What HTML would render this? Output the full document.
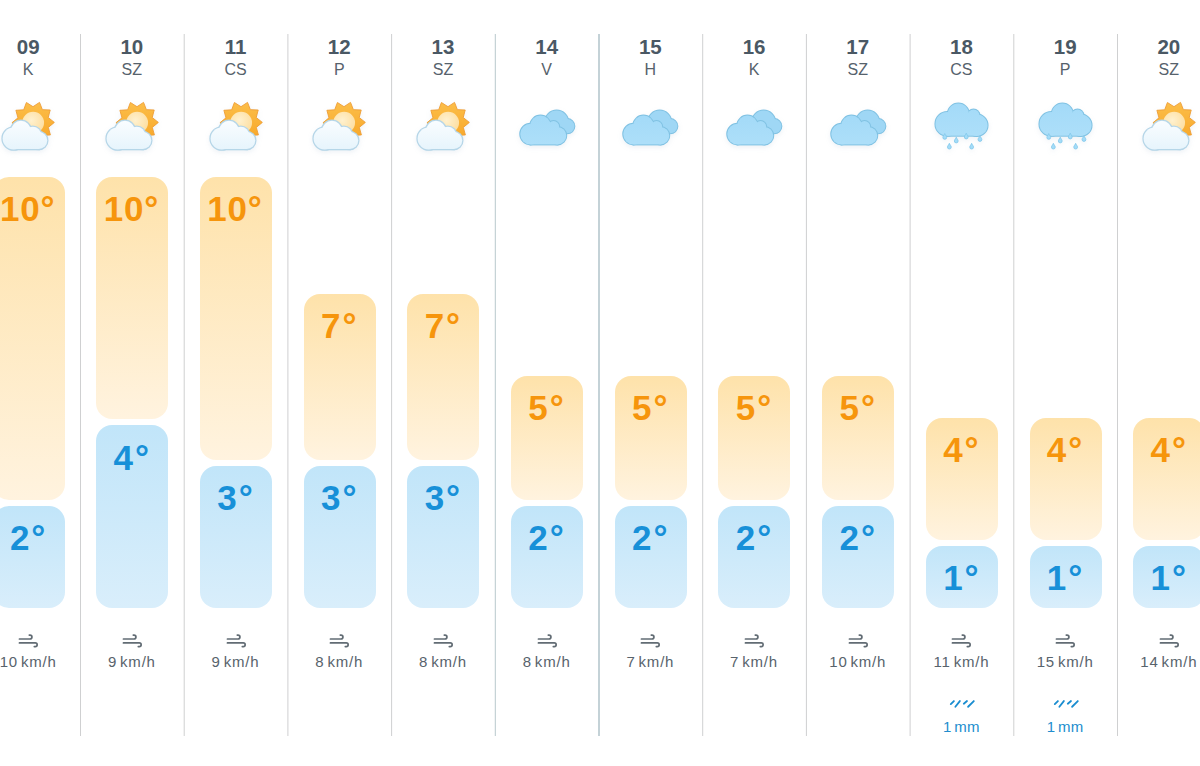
<!DOCTYPE html>
<html><head><meta charset="utf-8"><title>Előrejelzés</title><style>
*{margin:0;padding:0;box-sizing:border-box}
html,body{width:1200px;height:766px;overflow:hidden;background:#fff}
body{position:relative;font-family:"Liberation Sans",sans-serif}
.col{position:absolute;top:0;width:103.7px;height:766px}
.seps{position:absolute;left:0;top:0}
.num{position:absolute;left:0;right:0;top:35px;text-align:center;font-size:20.5px;line-height:24px;font-weight:bold;letter-spacing:0px;color:#4a5864}
.day{position:absolute;left:0;right:0;top:60.5px;text-align:center;font-size:16px;line-height:18px;color:#56626c}
.ico{position:absolute;left:21.85px;top:98px;overflow:visible;filter:drop-shadow(0 2px 2.5px rgba(90,130,170,0.10))}
.bar{position:absolute;left:16.3px;width:72px;border-radius:16px;text-align:center}
.bar span{position:absolute;left:0;right:0;top:14.2px;font-size:35px;line-height:35px;font-weight:bold;letter-spacing:2px}
.bar span.two{letter-spacing:0.8px;left:-2px}
.hi{background:linear-gradient(#fee2aa,#fff3df)}
.hi span{color:#f6950c}
.lo{background:linear-gradient(#c1e5f9,#d9eefb)}
.lo span{color:#1790d8}
.wind{position:absolute;left:41.85px;top:632px}
.wtxt{position:absolute;left:0;right:0;top:653px;text-align:center;font-size:15px;line-height:17px;letter-spacing:0.8px;word-spacing:-2px;color:#58636c}
.rain{position:absolute;left:39.35px;top:698px}
.rtxt{position:absolute;left:0;right:0;top:718px;text-align:center;font-size:15px;line-height:17px;letter-spacing:0.3px;word-spacing:-2px;color:#218dce}
</style></head>
<body>
<div class="col" style="left:-23.70px"><div class="num">09</div><div class="day">K</div><svg class="ico" width="60" height="56" viewBox="0 0 60 56"><defs><linearGradient id="sg0" gradientUnits="userSpaceOnUse" x1="0" y1="3" x2="0" y2="46"><stop offset="0" stop-color="#fcbf4a"/><stop offset="1" stop-color="#f7a526"/></linearGradient><radialGradient id="sd0" cx="0.42" cy="0.4" r="0.65"><stop offset="0" stop-color="#fff1cf"/><stop offset="1" stop-color="#fddea0"/></radialGradient><linearGradient id="cg0" gradientUnits="userSpaceOnUse" x1="0" y1="22" x2="0" y2="52"><stop offset="0" stop-color="#fafdff"/><stop offset="1" stop-color="#e6f4fc"/></linearGradient></defs><path d="M56.35,24.41 L50.23,19.55 L52.19,11.99 L44.38,11.66 L41.52,4.38 L35.01,8.70 L28.42,4.50 L25.69,11.82 L17.89,12.29 L19.99,19.82 L13.95,24.79 L20.07,29.65 L18.11,37.21 L25.92,37.54 L28.78,44.82 L35.29,40.50 L41.88,44.70 L44.61,37.38 L52.41,36.91 L50.31,29.38Z" fill="url(#sg0)" stroke="#ee9d35" stroke-width="0.9" stroke-linejoin="round"/><circle cx="35.15" cy="24.60" r="10.9" fill="url(#sd0)"/><circle cx="15.65" cy="40.50" r="11.00" fill="none" stroke="#b6d6e8" stroke-width="2.6"/><circle cx="22.95" cy="32.60" r="9.80" fill="none" stroke="#b6d6e8" stroke-width="2.6"/><circle cx="34.75" cy="37.30" r="8.50" fill="none" stroke="#b6d6e8" stroke-width="2.6"/><circle cx="40.75" cy="42.50" r="8.50" fill="none" stroke="#b6d6e8" stroke-width="2.6"/><rect x="15.65" y="40.50" width="25.10" height="10.50" fill="none" stroke="#b6d6e8" stroke-width="2.6"/><rect x="22.95" y="34.00" width="12.00" height="16.50" fill="none" stroke="#b6d6e8" stroke-width="2.6"/><circle cx="15.65" cy="40.50" r="11.00" fill="url(#cg0)"/><circle cx="22.95" cy="32.60" r="9.80" fill="url(#cg0)"/><circle cx="34.75" cy="37.30" r="8.50" fill="url(#cg0)"/><circle cx="40.75" cy="42.50" r="8.50" fill="url(#cg0)"/><rect x="15.65" y="40.50" width="25.10" height="10.50" fill="url(#cg0)"/><rect x="22.95" y="34.00" width="12.00" height="16.50" fill="url(#cg0)"/></svg><div class="bar hi" style="top:176.50px;height:323.50px"><span class="two">10°</span></div><div class="bar lo" style="top:506.30px;height:102.00px"><span>2°</span></div><svg class="wind" width="22" height="17" viewBox="0 0 22 17"><path d="M1.45,7 H12 A1.95,1.95 0 0 0 12,3.1 H11.3" fill="none" stroke="#626c74" stroke-width="1.7" stroke-linecap="round" stroke-linejoin="round"/><path d="M1.45,10.9 H17.3 A1.85,1.85 0 0 1 17.3,14.6 H16.3" fill="none" stroke="#626c74" stroke-width="1.7" stroke-linecap="round" stroke-linejoin="round"/></svg><div class="wtxt">10 km/h</div></div><div class="col" style="left:80.00px"><div class="num">10</div><div class="day">SZ</div><svg class="ico" width="60" height="56" viewBox="0 0 60 56"><defs><linearGradient id="sg1" gradientUnits="userSpaceOnUse" x1="0" y1="3" x2="0" y2="46"><stop offset="0" stop-color="#fcbf4a"/><stop offset="1" stop-color="#f7a526"/></linearGradient><radialGradient id="sd1" cx="0.42" cy="0.4" r="0.65"><stop offset="0" stop-color="#fff1cf"/><stop offset="1" stop-color="#fddea0"/></radialGradient><linearGradient id="cg1" gradientUnits="userSpaceOnUse" x1="0" y1="22" x2="0" y2="52"><stop offset="0" stop-color="#fafdff"/><stop offset="1" stop-color="#e6f4fc"/></linearGradient></defs><path d="M56.35,24.41 L50.23,19.55 L52.19,11.99 L44.38,11.66 L41.52,4.38 L35.01,8.70 L28.42,4.50 L25.69,11.82 L17.89,12.29 L19.99,19.82 L13.95,24.79 L20.07,29.65 L18.11,37.21 L25.92,37.54 L28.78,44.82 L35.29,40.50 L41.88,44.70 L44.61,37.38 L52.41,36.91 L50.31,29.38Z" fill="url(#sg1)" stroke="#ee9d35" stroke-width="0.9" stroke-linejoin="round"/><circle cx="35.15" cy="24.60" r="10.9" fill="url(#sd1)"/><circle cx="15.65" cy="40.50" r="11.00" fill="none" stroke="#b6d6e8" stroke-width="2.6"/><circle cx="22.95" cy="32.60" r="9.80" fill="none" stroke="#b6d6e8" stroke-width="2.6"/><circle cx="34.75" cy="37.30" r="8.50" fill="none" stroke="#b6d6e8" stroke-width="2.6"/><circle cx="40.75" cy="42.50" r="8.50" fill="none" stroke="#b6d6e8" stroke-width="2.6"/><rect x="15.65" y="40.50" width="25.10" height="10.50" fill="none" stroke="#b6d6e8" stroke-width="2.6"/><rect x="22.95" y="34.00" width="12.00" height="16.50" fill="none" stroke="#b6d6e8" stroke-width="2.6"/><circle cx="15.65" cy="40.50" r="11.00" fill="url(#cg1)"/><circle cx="22.95" cy="32.60" r="9.80" fill="url(#cg1)"/><circle cx="34.75" cy="37.30" r="8.50" fill="url(#cg1)"/><circle cx="40.75" cy="42.50" r="8.50" fill="url(#cg1)"/><rect x="15.65" y="40.50" width="25.10" height="10.50" fill="url(#cg1)"/><rect x="22.95" y="34.00" width="12.00" height="16.50" fill="url(#cg1)"/></svg><div class="bar hi" style="top:176.50px;height:242.70px"><span class="two">10°</span></div><div class="bar lo" style="top:425.40px;height:182.90px"><span>4°</span></div><svg class="wind" width="22" height="17" viewBox="0 0 22 17"><path d="M1.45,7 H12 A1.95,1.95 0 0 0 12,3.1 H11.3" fill="none" stroke="#626c74" stroke-width="1.7" stroke-linecap="round" stroke-linejoin="round"/><path d="M1.45,10.9 H17.3 A1.85,1.85 0 0 1 17.3,14.6 H16.3" fill="none" stroke="#626c74" stroke-width="1.7" stroke-linecap="round" stroke-linejoin="round"/></svg><div class="wtxt">9 km/h</div></div><div class="col" style="left:183.70px"><div class="num">11</div><div class="day">CS</div><svg class="ico" width="60" height="56" viewBox="0 0 60 56"><defs><linearGradient id="sg2" gradientUnits="userSpaceOnUse" x1="0" y1="3" x2="0" y2="46"><stop offset="0" stop-color="#fcbf4a"/><stop offset="1" stop-color="#f7a526"/></linearGradient><radialGradient id="sd2" cx="0.42" cy="0.4" r="0.65"><stop offset="0" stop-color="#fff1cf"/><stop offset="1" stop-color="#fddea0"/></radialGradient><linearGradient id="cg2" gradientUnits="userSpaceOnUse" x1="0" y1="22" x2="0" y2="52"><stop offset="0" stop-color="#fafdff"/><stop offset="1" stop-color="#e6f4fc"/></linearGradient></defs><path d="M56.35,24.41 L50.23,19.55 L52.19,11.99 L44.38,11.66 L41.52,4.38 L35.01,8.70 L28.42,4.50 L25.69,11.82 L17.89,12.29 L19.99,19.82 L13.95,24.79 L20.07,29.65 L18.11,37.21 L25.92,37.54 L28.78,44.82 L35.29,40.50 L41.88,44.70 L44.61,37.38 L52.41,36.91 L50.31,29.38Z" fill="url(#sg2)" stroke="#ee9d35" stroke-width="0.9" stroke-linejoin="round"/><circle cx="35.15" cy="24.60" r="10.9" fill="url(#sd2)"/><circle cx="15.65" cy="40.50" r="11.00" fill="none" stroke="#b6d6e8" stroke-width="2.6"/><circle cx="22.95" cy="32.60" r="9.80" fill="none" stroke="#b6d6e8" stroke-width="2.6"/><circle cx="34.75" cy="37.30" r="8.50" fill="none" stroke="#b6d6e8" stroke-width="2.6"/><circle cx="40.75" cy="42.50" r="8.50" fill="none" stroke="#b6d6e8" stroke-width="2.6"/><rect x="15.65" y="40.50" width="25.10" height="10.50" fill="none" stroke="#b6d6e8" stroke-width="2.6"/><rect x="22.95" y="34.00" width="12.00" height="16.50" fill="none" stroke="#b6d6e8" stroke-width="2.6"/><circle cx="15.65" cy="40.50" r="11.00" fill="url(#cg2)"/><circle cx="22.95" cy="32.60" r="9.80" fill="url(#cg2)"/><circle cx="34.75" cy="37.30" r="8.50" fill="url(#cg2)"/><circle cx="40.75" cy="42.50" r="8.50" fill="url(#cg2)"/><rect x="15.65" y="40.50" width="25.10" height="10.50" fill="url(#cg2)"/><rect x="22.95" y="34.00" width="12.00" height="16.50" fill="url(#cg2)"/></svg><div class="bar hi" style="top:176.50px;height:283.50px"><span class="two">10°</span></div><div class="bar lo" style="top:466.00px;height:142.30px"><span>3°</span></div><svg class="wind" width="22" height="17" viewBox="0 0 22 17"><path d="M1.45,7 H12 A1.95,1.95 0 0 0 12,3.1 H11.3" fill="none" stroke="#626c74" stroke-width="1.7" stroke-linecap="round" stroke-linejoin="round"/><path d="M1.45,10.9 H17.3 A1.85,1.85 0 0 1 17.3,14.6 H16.3" fill="none" stroke="#626c74" stroke-width="1.7" stroke-linecap="round" stroke-linejoin="round"/></svg><div class="wtxt">9 km/h</div></div><div class="col" style="left:287.40px"><div class="num">12</div><div class="day">P</div><svg class="ico" width="60" height="56" viewBox="0 0 60 56"><defs><linearGradient id="sg3" gradientUnits="userSpaceOnUse" x1="0" y1="3" x2="0" y2="46"><stop offset="0" stop-color="#fcbf4a"/><stop offset="1" stop-color="#f7a526"/></linearGradient><radialGradient id="sd3" cx="0.42" cy="0.4" r="0.65"><stop offset="0" stop-color="#fff1cf"/><stop offset="1" stop-color="#fddea0"/></radialGradient><linearGradient id="cg3" gradientUnits="userSpaceOnUse" x1="0" y1="22" x2="0" y2="52"><stop offset="0" stop-color="#fafdff"/><stop offset="1" stop-color="#e6f4fc"/></linearGradient></defs><path d="M56.35,24.41 L50.23,19.55 L52.19,11.99 L44.38,11.66 L41.52,4.38 L35.01,8.70 L28.42,4.50 L25.69,11.82 L17.89,12.29 L19.99,19.82 L13.95,24.79 L20.07,29.65 L18.11,37.21 L25.92,37.54 L28.78,44.82 L35.29,40.50 L41.88,44.70 L44.61,37.38 L52.41,36.91 L50.31,29.38Z" fill="url(#sg3)" stroke="#ee9d35" stroke-width="0.9" stroke-linejoin="round"/><circle cx="35.15" cy="24.60" r="10.9" fill="url(#sd3)"/><circle cx="15.65" cy="40.50" r="11.00" fill="none" stroke="#b6d6e8" stroke-width="2.6"/><circle cx="22.95" cy="32.60" r="9.80" fill="none" stroke="#b6d6e8" stroke-width="2.6"/><circle cx="34.75" cy="37.30" r="8.50" fill="none" stroke="#b6d6e8" stroke-width="2.6"/><circle cx="40.75" cy="42.50" r="8.50" fill="none" stroke="#b6d6e8" stroke-width="2.6"/><rect x="15.65" y="40.50" width="25.10" height="10.50" fill="none" stroke="#b6d6e8" stroke-width="2.6"/><rect x="22.95" y="34.00" width="12.00" height="16.50" fill="none" stroke="#b6d6e8" stroke-width="2.6"/><circle cx="15.65" cy="40.50" r="11.00" fill="url(#cg3)"/><circle cx="22.95" cy="32.60" r="9.80" fill="url(#cg3)"/><circle cx="34.75" cy="37.30" r="8.50" fill="url(#cg3)"/><circle cx="40.75" cy="42.50" r="8.50" fill="url(#cg3)"/><rect x="15.65" y="40.50" width="25.10" height="10.50" fill="url(#cg3)"/><rect x="22.95" y="34.00" width="12.00" height="16.50" fill="url(#cg3)"/></svg><div class="bar hi" style="top:294.00px;height:166.00px"><span>7°</span></div><div class="bar lo" style="top:466.00px;height:142.30px"><span>3°</span></div><svg class="wind" width="22" height="17" viewBox="0 0 22 17"><path d="M1.45,7 H12 A1.95,1.95 0 0 0 12,3.1 H11.3" fill="none" stroke="#626c74" stroke-width="1.7" stroke-linecap="round" stroke-linejoin="round"/><path d="M1.45,10.9 H17.3 A1.85,1.85 0 0 1 17.3,14.6 H16.3" fill="none" stroke="#626c74" stroke-width="1.7" stroke-linecap="round" stroke-linejoin="round"/></svg><div class="wtxt">8 km/h</div></div><div class="col" style="left:391.10px"><div class="num">13</div><div class="day">SZ</div><svg class="ico" width="60" height="56" viewBox="0 0 60 56"><defs><linearGradient id="sg4" gradientUnits="userSpaceOnUse" x1="0" y1="3" x2="0" y2="46"><stop offset="0" stop-color="#fcbf4a"/><stop offset="1" stop-color="#f7a526"/></linearGradient><radialGradient id="sd4" cx="0.42" cy="0.4" r="0.65"><stop offset="0" stop-color="#fff1cf"/><stop offset="1" stop-color="#fddea0"/></radialGradient><linearGradient id="cg4" gradientUnits="userSpaceOnUse" x1="0" y1="22" x2="0" y2="52"><stop offset="0" stop-color="#fafdff"/><stop offset="1" stop-color="#e6f4fc"/></linearGradient></defs><path d="M56.35,24.41 L50.23,19.55 L52.19,11.99 L44.38,11.66 L41.52,4.38 L35.01,8.70 L28.42,4.50 L25.69,11.82 L17.89,12.29 L19.99,19.82 L13.95,24.79 L20.07,29.65 L18.11,37.21 L25.92,37.54 L28.78,44.82 L35.29,40.50 L41.88,44.70 L44.61,37.38 L52.41,36.91 L50.31,29.38Z" fill="url(#sg4)" stroke="#ee9d35" stroke-width="0.9" stroke-linejoin="round"/><circle cx="35.15" cy="24.60" r="10.9" fill="url(#sd4)"/><circle cx="15.65" cy="40.50" r="11.00" fill="none" stroke="#b6d6e8" stroke-width="2.6"/><circle cx="22.95" cy="32.60" r="9.80" fill="none" stroke="#b6d6e8" stroke-width="2.6"/><circle cx="34.75" cy="37.30" r="8.50" fill="none" stroke="#b6d6e8" stroke-width="2.6"/><circle cx="40.75" cy="42.50" r="8.50" fill="none" stroke="#b6d6e8" stroke-width="2.6"/><rect x="15.65" y="40.50" width="25.10" height="10.50" fill="none" stroke="#b6d6e8" stroke-width="2.6"/><rect x="22.95" y="34.00" width="12.00" height="16.50" fill="none" stroke="#b6d6e8" stroke-width="2.6"/><circle cx="15.65" cy="40.50" r="11.00" fill="url(#cg4)"/><circle cx="22.95" cy="32.60" r="9.80" fill="url(#cg4)"/><circle cx="34.75" cy="37.30" r="8.50" fill="url(#cg4)"/><circle cx="40.75" cy="42.50" r="8.50" fill="url(#cg4)"/><rect x="15.65" y="40.50" width="25.10" height="10.50" fill="url(#cg4)"/><rect x="22.95" y="34.00" width="12.00" height="16.50" fill="url(#cg4)"/></svg><div class="bar hi" style="top:294.00px;height:166.00px"><span>7°</span></div><div class="bar lo" style="top:466.00px;height:142.30px"><span>3°</span></div><svg class="wind" width="22" height="17" viewBox="0 0 22 17"><path d="M1.45,7 H12 A1.95,1.95 0 0 0 12,3.1 H11.3" fill="none" stroke="#626c74" stroke-width="1.7" stroke-linecap="round" stroke-linejoin="round"/><path d="M1.45,10.9 H17.3 A1.85,1.85 0 0 1 17.3,14.6 H16.3" fill="none" stroke="#626c74" stroke-width="1.7" stroke-linecap="round" stroke-linejoin="round"/></svg><div class="wtxt">8 km/h</div></div><div class="col" style="left:494.80px"><div class="num">14</div><div class="day">V</div><svg class="ico" width="60" height="56" viewBox="0 0 60 56"><defs><linearGradient id="fg5" gradientUnits="userSpaceOnUse" x1="0" y1="16" x2="0" y2="47"><stop offset="0" stop-color="#a3daf8"/><stop offset="1" stop-color="#addff9"/></linearGradient></defs><circle cx="39.65" cy="24.20" r="11.60" fill="none" stroke="#80c2e3" stroke-width="2.0"/><circle cx="50.25" cy="28.20" r="7.10" fill="none" stroke="#80c2e3" stroke-width="2.0"/><rect x="35.95" y="28.00" width="14.30" height="7.10" fill="none" stroke="#80c2e3" stroke-width="2.0"/><circle cx="39.65" cy="24.20" r="11.60" fill="#9fd7f5"/><circle cx="50.25" cy="28.20" r="7.10" fill="#9fd7f5"/><rect x="35.95" y="28.00" width="14.30" height="7.10" fill="#9fd7f5"/><circle cx="13.55" cy="36.10" r="10.30" fill="none" stroke="#80c2e3" stroke-width="2.0"/><circle cx="23.45" cy="27.80" r="10.20" fill="none" stroke="#80c2e3" stroke-width="2.0"/><circle cx="36.55" cy="28.60" r="5.60" fill="none" stroke="#80c2e3" stroke-width="2.0"/><circle cx="40.55" cy="37.70" r="8.70" fill="none" stroke="#80c2e3" stroke-width="2.0"/><rect x="13.55" y="36.10" width="27.00" height="10.30" fill="none" stroke="#80c2e3" stroke-width="2.0"/><rect x="23.45" y="29.00" width="13.00" height="16.50" fill="none" stroke="#80c2e3" stroke-width="2.0"/><circle cx="13.55" cy="36.10" r="10.30" fill="url(#fg5)"/><circle cx="23.45" cy="27.80" r="10.20" fill="url(#fg5)"/><circle cx="36.55" cy="28.60" r="5.60" fill="url(#fg5)"/><circle cx="40.55" cy="37.70" r="8.70" fill="url(#fg5)"/><rect x="13.55" y="36.10" width="27.00" height="10.30" fill="url(#fg5)"/><rect x="23.45" y="29.00" width="13.00" height="16.50" fill="url(#fg5)"/></svg><div class="bar hi" style="top:375.80px;height:124.20px"><span>5°</span></div><div class="bar lo" style="top:506.30px;height:102.00px"><span>2°</span></div><svg class="wind" width="22" height="17" viewBox="0 0 22 17"><path d="M1.45,7 H12 A1.95,1.95 0 0 0 12,3.1 H11.3" fill="none" stroke="#626c74" stroke-width="1.7" stroke-linecap="round" stroke-linejoin="round"/><path d="M1.45,10.9 H17.3 A1.85,1.85 0 0 1 17.3,14.6 H16.3" fill="none" stroke="#626c74" stroke-width="1.7" stroke-linecap="round" stroke-linejoin="round"/></svg><div class="wtxt">8 km/h</div></div><div class="col" style="left:598.50px"><div class="num">15</div><div class="day">H</div><svg class="ico" width="60" height="56" viewBox="0 0 60 56"><defs><linearGradient id="fg6" gradientUnits="userSpaceOnUse" x1="0" y1="16" x2="0" y2="47"><stop offset="0" stop-color="#a3daf8"/><stop offset="1" stop-color="#addff9"/></linearGradient></defs><circle cx="39.65" cy="24.20" r="11.60" fill="none" stroke="#80c2e3" stroke-width="2.0"/><circle cx="50.25" cy="28.20" r="7.10" fill="none" stroke="#80c2e3" stroke-width="2.0"/><rect x="35.95" y="28.00" width="14.30" height="7.10" fill="none" stroke="#80c2e3" stroke-width="2.0"/><circle cx="39.65" cy="24.20" r="11.60" fill="#9fd7f5"/><circle cx="50.25" cy="28.20" r="7.10" fill="#9fd7f5"/><rect x="35.95" y="28.00" width="14.30" height="7.10" fill="#9fd7f5"/><circle cx="13.55" cy="36.10" r="10.30" fill="none" stroke="#80c2e3" stroke-width="2.0"/><circle cx="23.45" cy="27.80" r="10.20" fill="none" stroke="#80c2e3" stroke-width="2.0"/><circle cx="36.55" cy="28.60" r="5.60" fill="none" stroke="#80c2e3" stroke-width="2.0"/><circle cx="40.55" cy="37.70" r="8.70" fill="none" stroke="#80c2e3" stroke-width="2.0"/><rect x="13.55" y="36.10" width="27.00" height="10.30" fill="none" stroke="#80c2e3" stroke-width="2.0"/><rect x="23.45" y="29.00" width="13.00" height="16.50" fill="none" stroke="#80c2e3" stroke-width="2.0"/><circle cx="13.55" cy="36.10" r="10.30" fill="url(#fg6)"/><circle cx="23.45" cy="27.80" r="10.20" fill="url(#fg6)"/><circle cx="36.55" cy="28.60" r="5.60" fill="url(#fg6)"/><circle cx="40.55" cy="37.70" r="8.70" fill="url(#fg6)"/><rect x="13.55" y="36.10" width="27.00" height="10.30" fill="url(#fg6)"/><rect x="23.45" y="29.00" width="13.00" height="16.50" fill="url(#fg6)"/></svg><div class="bar hi" style="top:375.80px;height:124.20px"><span>5°</span></div><div class="bar lo" style="top:506.30px;height:102.00px"><span>2°</span></div><svg class="wind" width="22" height="17" viewBox="0 0 22 17"><path d="M1.45,7 H12 A1.95,1.95 0 0 0 12,3.1 H11.3" fill="none" stroke="#626c74" stroke-width="1.7" stroke-linecap="round" stroke-linejoin="round"/><path d="M1.45,10.9 H17.3 A1.85,1.85 0 0 1 17.3,14.6 H16.3" fill="none" stroke="#626c74" stroke-width="1.7" stroke-linecap="round" stroke-linejoin="round"/></svg><div class="wtxt">7 km/h</div></div><div class="col" style="left:702.20px"><div class="num">16</div><div class="day">K</div><svg class="ico" width="60" height="56" viewBox="0 0 60 56"><defs><linearGradient id="fg7" gradientUnits="userSpaceOnUse" x1="0" y1="16" x2="0" y2="47"><stop offset="0" stop-color="#a3daf8"/><stop offset="1" stop-color="#addff9"/></linearGradient></defs><circle cx="39.65" cy="24.20" r="11.60" fill="none" stroke="#80c2e3" stroke-width="2.0"/><circle cx="50.25" cy="28.20" r="7.10" fill="none" stroke="#80c2e3" stroke-width="2.0"/><rect x="35.95" y="28.00" width="14.30" height="7.10" fill="none" stroke="#80c2e3" stroke-width="2.0"/><circle cx="39.65" cy="24.20" r="11.60" fill="#9fd7f5"/><circle cx="50.25" cy="28.20" r="7.10" fill="#9fd7f5"/><rect x="35.95" y="28.00" width="14.30" height="7.10" fill="#9fd7f5"/><circle cx="13.55" cy="36.10" r="10.30" fill="none" stroke="#80c2e3" stroke-width="2.0"/><circle cx="23.45" cy="27.80" r="10.20" fill="none" stroke="#80c2e3" stroke-width="2.0"/><circle cx="36.55" cy="28.60" r="5.60" fill="none" stroke="#80c2e3" stroke-width="2.0"/><circle cx="40.55" cy="37.70" r="8.70" fill="none" stroke="#80c2e3" stroke-width="2.0"/><rect x="13.55" y="36.10" width="27.00" height="10.30" fill="none" stroke="#80c2e3" stroke-width="2.0"/><rect x="23.45" y="29.00" width="13.00" height="16.50" fill="none" stroke="#80c2e3" stroke-width="2.0"/><circle cx="13.55" cy="36.10" r="10.30" fill="url(#fg7)"/><circle cx="23.45" cy="27.80" r="10.20" fill="url(#fg7)"/><circle cx="36.55" cy="28.60" r="5.60" fill="url(#fg7)"/><circle cx="40.55" cy="37.70" r="8.70" fill="url(#fg7)"/><rect x="13.55" y="36.10" width="27.00" height="10.30" fill="url(#fg7)"/><rect x="23.45" y="29.00" width="13.00" height="16.50" fill="url(#fg7)"/></svg><div class="bar hi" style="top:375.80px;height:124.20px"><span>5°</span></div><div class="bar lo" style="top:506.30px;height:102.00px"><span>2°</span></div><svg class="wind" width="22" height="17" viewBox="0 0 22 17"><path d="M1.45,7 H12 A1.95,1.95 0 0 0 12,3.1 H11.3" fill="none" stroke="#626c74" stroke-width="1.7" stroke-linecap="round" stroke-linejoin="round"/><path d="M1.45,10.9 H17.3 A1.85,1.85 0 0 1 17.3,14.6 H16.3" fill="none" stroke="#626c74" stroke-width="1.7" stroke-linecap="round" stroke-linejoin="round"/></svg><div class="wtxt">7 km/h</div></div><div class="col" style="left:805.90px"><div class="num">17</div><div class="day">SZ</div><svg class="ico" width="60" height="56" viewBox="0 0 60 56"><defs><linearGradient id="fg8" gradientUnits="userSpaceOnUse" x1="0" y1="16" x2="0" y2="47"><stop offset="0" stop-color="#a3daf8"/><stop offset="1" stop-color="#addff9"/></linearGradient></defs><circle cx="39.65" cy="24.20" r="11.60" fill="none" stroke="#80c2e3" stroke-width="2.0"/><circle cx="50.25" cy="28.20" r="7.10" fill="none" stroke="#80c2e3" stroke-width="2.0"/><rect x="35.95" y="28.00" width="14.30" height="7.10" fill="none" stroke="#80c2e3" stroke-width="2.0"/><circle cx="39.65" cy="24.20" r="11.60" fill="#9fd7f5"/><circle cx="50.25" cy="28.20" r="7.10" fill="#9fd7f5"/><rect x="35.95" y="28.00" width="14.30" height="7.10" fill="#9fd7f5"/><circle cx="13.55" cy="36.10" r="10.30" fill="none" stroke="#80c2e3" stroke-width="2.0"/><circle cx="23.45" cy="27.80" r="10.20" fill="none" stroke="#80c2e3" stroke-width="2.0"/><circle cx="36.55" cy="28.60" r="5.60" fill="none" stroke="#80c2e3" stroke-width="2.0"/><circle cx="40.55" cy="37.70" r="8.70" fill="none" stroke="#80c2e3" stroke-width="2.0"/><rect x="13.55" y="36.10" width="27.00" height="10.30" fill="none" stroke="#80c2e3" stroke-width="2.0"/><rect x="23.45" y="29.00" width="13.00" height="16.50" fill="none" stroke="#80c2e3" stroke-width="2.0"/><circle cx="13.55" cy="36.10" r="10.30" fill="url(#fg8)"/><circle cx="23.45" cy="27.80" r="10.20" fill="url(#fg8)"/><circle cx="36.55" cy="28.60" r="5.60" fill="url(#fg8)"/><circle cx="40.55" cy="37.70" r="8.70" fill="url(#fg8)"/><rect x="13.55" y="36.10" width="27.00" height="10.30" fill="url(#fg8)"/><rect x="23.45" y="29.00" width="13.00" height="16.50" fill="url(#fg8)"/></svg><div class="bar hi" style="top:375.80px;height:124.20px"><span>5°</span></div><div class="bar lo" style="top:506.30px;height:102.00px"><span>2°</span></div><svg class="wind" width="22" height="17" viewBox="0 0 22 17"><path d="M1.45,7 H12 A1.95,1.95 0 0 0 12,3.1 H11.3" fill="none" stroke="#626c74" stroke-width="1.7" stroke-linecap="round" stroke-linejoin="round"/><path d="M1.45,10.9 H17.3 A1.85,1.85 0 0 1 17.3,14.6 H16.3" fill="none" stroke="#626c74" stroke-width="1.7" stroke-linecap="round" stroke-linejoin="round"/></svg><div class="wtxt">10 km/h</div></div><div class="col" style="left:909.60px"><div class="num">18</div><div class="day">CS</div><svg class="ico" width="60" height="56" viewBox="0 0 60 56"><defs><linearGradient id="rg9" gradientUnits="userSpaceOnUse" x1="0" y1="4" x2="0" y2="39"><stop offset="0" stop-color="#a3daf8"/><stop offset="1" stop-color="#addff9"/></linearGradient></defs><circle cx="16.25" cy="25.90" r="11.80" fill="none" stroke="#80c2e3" stroke-width="2.0"/><circle cx="27.35" cy="16.10" r="10.60" fill="none" stroke="#80c2e3" stroke-width="2.0"/><circle cx="42.55" cy="17.50" r="5.90" fill="none" stroke="#80c2e3" stroke-width="2.0"/><circle cx="45.85" cy="27.30" r="10.70" fill="none" stroke="#80c2e3" stroke-width="2.0"/><rect x="16.25" y="25.90" width="29.60" height="11.80" fill="none" stroke="#80c2e3" stroke-width="2.0"/><rect x="27.35" y="18.00" width="16.00" height="18.50" fill="none" stroke="#80c2e3" stroke-width="2.0"/><circle cx="16.25" cy="25.90" r="11.80" fill="url(#rg9)"/><circle cx="27.35" cy="16.10" r="10.60" fill="url(#rg9)"/><circle cx="42.55" cy="17.50" r="5.90" fill="url(#rg9)"/><circle cx="45.85" cy="27.30" r="10.70" fill="url(#rg9)"/><rect x="16.25" y="25.90" width="29.60" height="11.80" fill="url(#rg9)"/><rect x="27.35" y="18.00" width="16.00" height="18.50" fill="url(#rg9)"/><path d="M13.75,35.60 C14.35,37.20 15.65,38.20 15.65,39.40 A1.9,1.9 0 0 1 11.85,39.40 C11.85,38.20 13.15,37.20 13.75,35.60Z" fill="#a3dcf8" stroke="#80c6ea" stroke-width="0.8"/><path d="M25.25,39.20 C25.85,40.80 27.15,41.80 27.15,43.00 A1.9,1.9 0 0 1 23.35,43.00 C23.35,41.80 24.65,40.80 25.25,39.20Z" fill="#a3dcf8" stroke="#80c6ea" stroke-width="0.8"/><path d="M35.25,35.20 C35.85,36.80 37.15,37.80 37.15,39.00 A1.9,1.9 0 0 1 33.35,39.00 C33.35,37.80 34.65,36.80 35.25,35.20Z" fill="#a3dcf8" stroke="#80c6ea" stroke-width="0.8"/><path d="M48.95,37.70 C49.55,39.30 50.85,40.30 50.85,41.50 A1.9,1.9 0 0 1 47.05,41.50 C47.05,40.30 48.35,39.30 48.95,37.70Z" fill="#a3dcf8" stroke="#80c6ea" stroke-width="0.8"/><path d="M18.35,45.30 C18.95,46.90 20.25,47.90 20.25,49.10 A1.9,1.9 0 0 1 16.45,49.10 C16.45,47.90 17.75,46.90 18.35,45.30Z" fill="#a3dcf8" stroke="#80c6ea" stroke-width="0.8"/><path d="M40.65,45.30 C41.25,46.90 42.55,47.90 42.55,49.10 A1.9,1.9 0 0 1 38.75,49.10 C38.75,47.90 40.05,46.90 40.65,45.30Z" fill="#a3dcf8" stroke="#80c6ea" stroke-width="0.8"/></svg><div class="bar hi" style="top:417.80px;height:122.20px"><span>4°</span></div><div class="bar lo" style="top:546.00px;height:62.30px"><span>1°</span></div><svg class="wind" width="22" height="17" viewBox="0 0 22 17"><path d="M1.45,7 H12 A1.95,1.95 0 0 0 12,3.1 H11.3" fill="none" stroke="#626c74" stroke-width="1.7" stroke-linecap="round" stroke-linejoin="round"/><path d="M1.45,10.9 H17.3 A1.85,1.85 0 0 1 17.3,14.6 H16.3" fill="none" stroke="#626c74" stroke-width="1.7" stroke-linecap="round" stroke-linejoin="round"/></svg><div class="wtxt">11 km/h</div><svg class="rain" width="27" height="11" viewBox="0 0 27 11"><path d="M1.80,6.15 L4.90,3.05 M6.37,8.73 L10.83,3.07 M14.81,5.77 L17.99,3.03 M19.10,8.75 L24.80,3.05" fill="none" stroke="#1a8dd0" stroke-width="1.8" stroke-linecap="round"/></svg><div class="rtxt">1 mm</div></div><div class="col" style="left:1013.30px"><div class="num">19</div><div class="day">P</div><svg class="ico" width="60" height="56" viewBox="0 0 60 56"><defs><linearGradient id="rg10" gradientUnits="userSpaceOnUse" x1="0" y1="4" x2="0" y2="39"><stop offset="0" stop-color="#a3daf8"/><stop offset="1" stop-color="#addff9"/></linearGradient></defs><circle cx="16.25" cy="25.90" r="11.80" fill="none" stroke="#80c2e3" stroke-width="2.0"/><circle cx="27.35" cy="16.10" r="10.60" fill="none" stroke="#80c2e3" stroke-width="2.0"/><circle cx="42.55" cy="17.50" r="5.90" fill="none" stroke="#80c2e3" stroke-width="2.0"/><circle cx="45.85" cy="27.30" r="10.70" fill="none" stroke="#80c2e3" stroke-width="2.0"/><rect x="16.25" y="25.90" width="29.60" height="11.80" fill="none" stroke="#80c2e3" stroke-width="2.0"/><rect x="27.35" y="18.00" width="16.00" height="18.50" fill="none" stroke="#80c2e3" stroke-width="2.0"/><circle cx="16.25" cy="25.90" r="11.80" fill="url(#rg10)"/><circle cx="27.35" cy="16.10" r="10.60" fill="url(#rg10)"/><circle cx="42.55" cy="17.50" r="5.90" fill="url(#rg10)"/><circle cx="45.85" cy="27.30" r="10.70" fill="url(#rg10)"/><rect x="16.25" y="25.90" width="29.60" height="11.80" fill="url(#rg10)"/><rect x="27.35" y="18.00" width="16.00" height="18.50" fill="url(#rg10)"/><path d="M13.75,35.60 C14.35,37.20 15.65,38.20 15.65,39.40 A1.9,1.9 0 0 1 11.85,39.40 C11.85,38.20 13.15,37.20 13.75,35.60Z" fill="#a3dcf8" stroke="#80c6ea" stroke-width="0.8"/><path d="M25.25,39.20 C25.85,40.80 27.15,41.80 27.15,43.00 A1.9,1.9 0 0 1 23.35,43.00 C23.35,41.80 24.65,40.80 25.25,39.20Z" fill="#a3dcf8" stroke="#80c6ea" stroke-width="0.8"/><path d="M35.25,35.20 C35.85,36.80 37.15,37.80 37.15,39.00 A1.9,1.9 0 0 1 33.35,39.00 C33.35,37.80 34.65,36.80 35.25,35.20Z" fill="#a3dcf8" stroke="#80c6ea" stroke-width="0.8"/><path d="M48.95,37.70 C49.55,39.30 50.85,40.30 50.85,41.50 A1.9,1.9 0 0 1 47.05,41.50 C47.05,40.30 48.35,39.30 48.95,37.70Z" fill="#a3dcf8" stroke="#80c6ea" stroke-width="0.8"/><path d="M18.35,45.30 C18.95,46.90 20.25,47.90 20.25,49.10 A1.9,1.9 0 0 1 16.45,49.10 C16.45,47.90 17.75,46.90 18.35,45.30Z" fill="#a3dcf8" stroke="#80c6ea" stroke-width="0.8"/><path d="M40.65,45.30 C41.25,46.90 42.55,47.90 42.55,49.10 A1.9,1.9 0 0 1 38.75,49.10 C38.75,47.90 40.05,46.90 40.65,45.30Z" fill="#a3dcf8" stroke="#80c6ea" stroke-width="0.8"/></svg><div class="bar hi" style="top:417.80px;height:122.20px"><span>4°</span></div><div class="bar lo" style="top:546.00px;height:62.30px"><span>1°</span></div><svg class="wind" width="22" height="17" viewBox="0 0 22 17"><path d="M1.45,7 H12 A1.95,1.95 0 0 0 12,3.1 H11.3" fill="none" stroke="#626c74" stroke-width="1.7" stroke-linecap="round" stroke-linejoin="round"/><path d="M1.45,10.9 H17.3 A1.85,1.85 0 0 1 17.3,14.6 H16.3" fill="none" stroke="#626c74" stroke-width="1.7" stroke-linecap="round" stroke-linejoin="round"/></svg><div class="wtxt">15 km/h</div><svg class="rain" width="27" height="11" viewBox="0 0 27 11"><path d="M1.80,6.15 L4.90,3.05 M6.37,8.73 L10.83,3.07 M14.81,5.77 L17.99,3.03 M19.10,8.75 L24.80,3.05" fill="none" stroke="#1a8dd0" stroke-width="1.8" stroke-linecap="round"/></svg><div class="rtxt">1 mm</div></div><div class="col" style="left:1117.00px"><div class="num">20</div><div class="day">SZ</div><svg class="ico" width="60" height="56" viewBox="0 0 60 56"><defs><linearGradient id="sg11" gradientUnits="userSpaceOnUse" x1="0" y1="3" x2="0" y2="46"><stop offset="0" stop-color="#fcbf4a"/><stop offset="1" stop-color="#f7a526"/></linearGradient><radialGradient id="sd11" cx="0.42" cy="0.4" r="0.65"><stop offset="0" stop-color="#fff1cf"/><stop offset="1" stop-color="#fddea0"/></radialGradient><linearGradient id="cg11" gradientUnits="userSpaceOnUse" x1="0" y1="22" x2="0" y2="52"><stop offset="0" stop-color="#fafdff"/><stop offset="1" stop-color="#e6f4fc"/></linearGradient></defs><path d="M56.35,24.41 L50.23,19.55 L52.19,11.99 L44.38,11.66 L41.52,4.38 L35.01,8.70 L28.42,4.50 L25.69,11.82 L17.89,12.29 L19.99,19.82 L13.95,24.79 L20.07,29.65 L18.11,37.21 L25.92,37.54 L28.78,44.82 L35.29,40.50 L41.88,44.70 L44.61,37.38 L52.41,36.91 L50.31,29.38Z" fill="url(#sg11)" stroke="#ee9d35" stroke-width="0.9" stroke-linejoin="round"/><circle cx="35.15" cy="24.60" r="10.9" fill="url(#sd11)"/><circle cx="15.65" cy="40.50" r="11.00" fill="none" stroke="#b6d6e8" stroke-width="2.6"/><circle cx="22.95" cy="32.60" r="9.80" fill="none" stroke="#b6d6e8" stroke-width="2.6"/><circle cx="34.75" cy="37.30" r="8.50" fill="none" stroke="#b6d6e8" stroke-width="2.6"/><circle cx="40.75" cy="42.50" r="8.50" fill="none" stroke="#b6d6e8" stroke-width="2.6"/><rect x="15.65" y="40.50" width="25.10" height="10.50" fill="none" stroke="#b6d6e8" stroke-width="2.6"/><rect x="22.95" y="34.00" width="12.00" height="16.50" fill="none" stroke="#b6d6e8" stroke-width="2.6"/><circle cx="15.65" cy="40.50" r="11.00" fill="url(#cg11)"/><circle cx="22.95" cy="32.60" r="9.80" fill="url(#cg11)"/><circle cx="34.75" cy="37.30" r="8.50" fill="url(#cg11)"/><circle cx="40.75" cy="42.50" r="8.50" fill="url(#cg11)"/><rect x="15.65" y="40.50" width="25.10" height="10.50" fill="url(#cg11)"/><rect x="22.95" y="34.00" width="12.00" height="16.50" fill="url(#cg11)"/></svg><div class="bar hi" style="top:417.80px;height:122.20px"><span>4°</span></div><div class="bar lo" style="top:546.00px;height:62.30px"><span>1°</span></div><svg class="wind" width="22" height="17" viewBox="0 0 22 17"><path d="M1.45,7 H12 A1.95,1.95 0 0 0 12,3.1 H11.3" fill="none" stroke="#626c74" stroke-width="1.7" stroke-linecap="round" stroke-linejoin="round"/><path d="M1.45,10.9 H17.3 A1.85,1.85 0 0 1 17.3,14.6 H16.3" fill="none" stroke="#626c74" stroke-width="1.7" stroke-linecap="round" stroke-linejoin="round"/></svg><div class="wtxt">14 km/h</div></div><svg class="seps" width="1200" height="766" viewBox="0 0 1200 766"><rect x="80.00" y="34" width="1" height="702" fill="#cfd0d1"/><rect x="183.70" y="34" width="1" height="702" fill="#cfd0d1"/><rect x="287.40" y="34" width="1" height="702" fill="#cfd0d1"/><rect x="391.10" y="34" width="1" height="702" fill="#cfd0d1"/><rect x="494.80" y="34" width="1" height="702" fill="#b9c9cd"/><rect x="598" y="34" width="2" height="702" fill="#c4d2d7"/><rect x="702.20" y="34" width="1" height="702" fill="#cfd0d1"/><rect x="805.90" y="34" width="1" height="702" fill="#cfd0d1"/><rect x="909.60" y="34" width="1" height="702" fill="#cfd0d1"/><rect x="1013.30" y="34" width="1" height="702" fill="#cfd0d1"/><rect x="1117.00" y="34" width="1" height="702" fill="#cfd0d1"/></svg>
</body></html>
